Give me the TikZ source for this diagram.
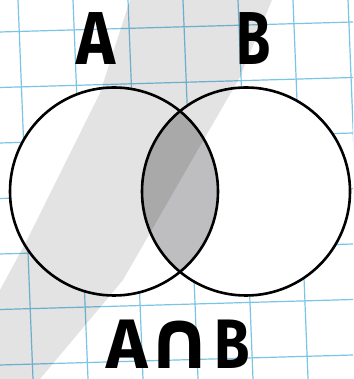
\documentclass[tikz,border=0pt]{standalone}
\usepackage{fontspec}
\setmainfont{Fira Sans}
\newfontfamily\capfont{DejaVu Sans}
\usetikzlibrary{positioning}
\definecolor{GridBlue}{RGB}{122,196,230}
\definecolor{LensGray}{RGB}{190,190,192}

\begin{document}
\begin{tikzpicture}[x=1pt,y=1pt,
    setlabel/.style={font=\fontsize{75}{75}\selectfont\bfseries, inner sep=0pt, anchor=base},
    caplabel/.style={font=\fontsize{70}{70}\selectfont\bfseries, inner sep=0pt, anchor=base},
    gridline/.style={GridBlue, line width=1.2pt},
    setcircle/.style={draw=black, line width=2.6pt}]
  \useasboundingbox (0,0) rectangle (353,379);
  \fill[white] (0,0) rectangle (353,379);

  % squared paper
  \begin{scope}
    \clip (0,0) rectangle (353,379);
    \foreach \i in {-1,...,7}
      \draw[gridline] ({33+55*\i},0) -- ({18+55*\i},379);
    \foreach \j in {-1,...,7}
      \draw[gridline] (0,{14+55.5*\j}) -- (353,{24+55.5*\j});
  \end{scope}

  % centres of the two sets
  \coordinate (cA) at (114,187.5);
  \coordinate (cB) at (246,187.5);

  \fill[white] (cA) circle (104);
  \fill[white] (cB) circle (104);

  % intersection
  \begin{scope}
    \clip (cA) circle (104);
    \fill[LensGray] (cB) circle (104);
  \end{scope}

  % glare across the sheet
  \fill[black, opacity=0.11] (130,379) -- (272,379) -- (240,302) -- (196,226)
    -- (123,99) -- (40,0) -- (0,0) -- (0,89) -- (27,139) -- (100,286) -- cycle;

  \draw[setcircle] (cA) circle (104);
  \draw[setcircle] (cB) circle (104);

  % labels
  \node[setlabel, xscale=0.88] (labA) at (96,314) {A};
  \node[setlabel, xscale=0.74] (labB) at (254,314) {B};
  \node[caplabel] (labAB) at (178,10)
    {A{\capfont\fontsize{82}{82}\selectfont\kern-1pt ∩}\kern1pt\scalebox{0.82}[1]{B}};
\end{tikzpicture}
\end{document}
